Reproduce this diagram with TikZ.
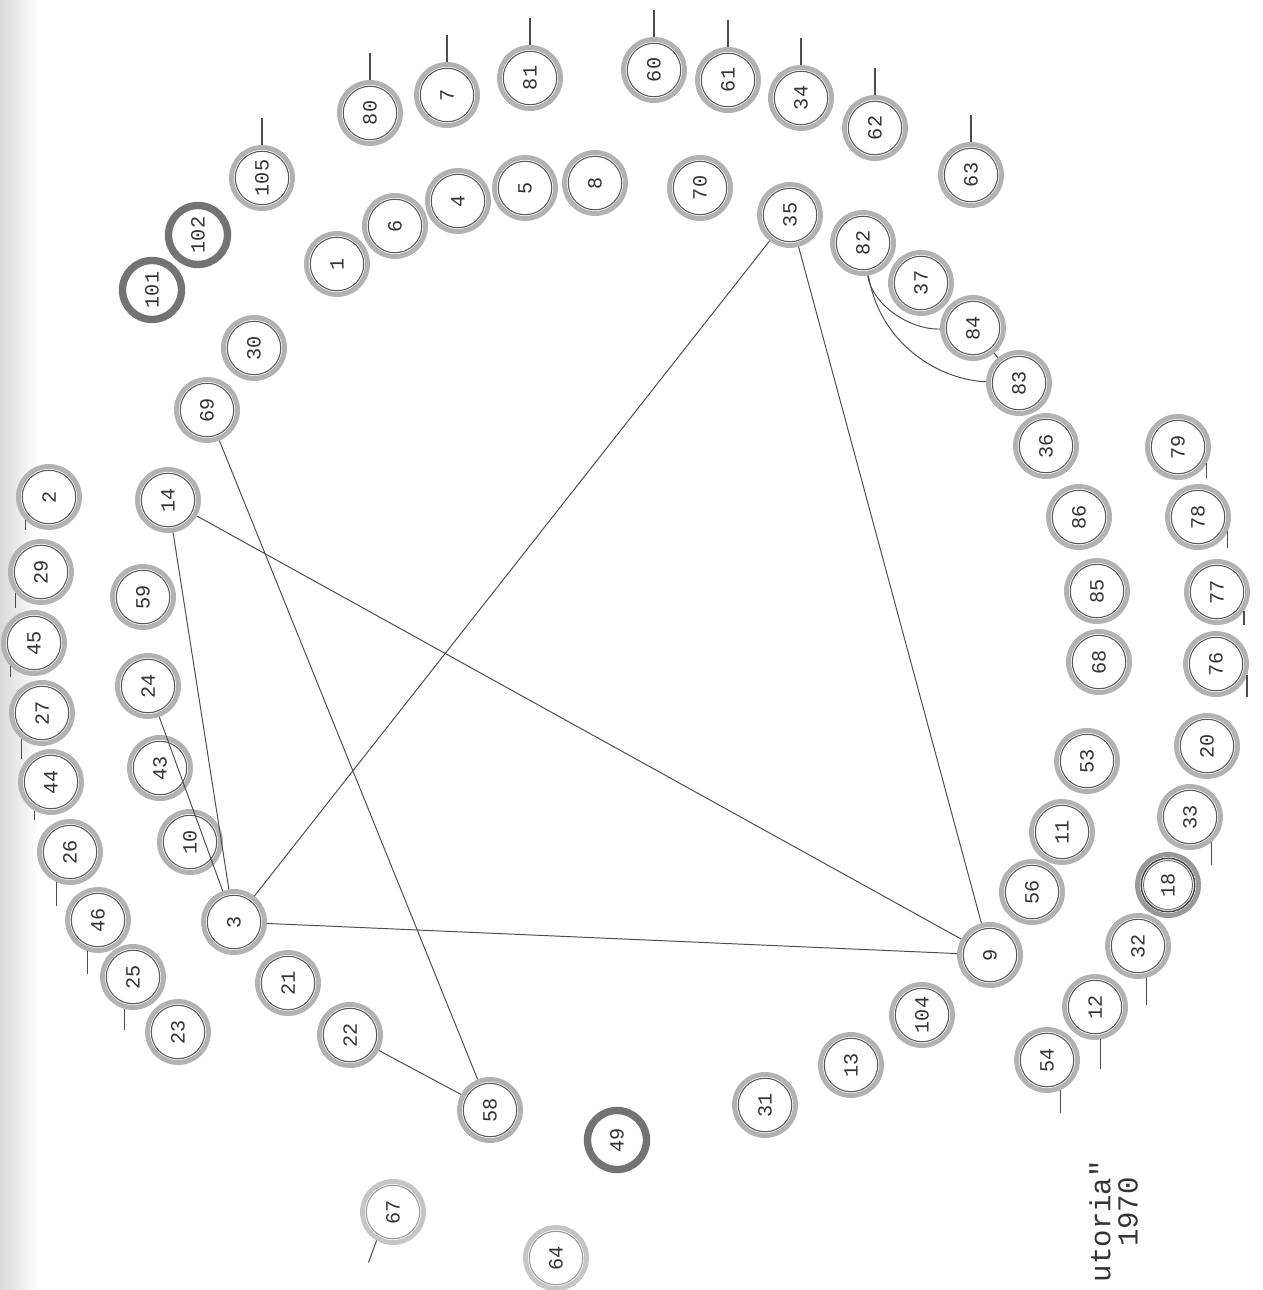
\documentclass[tikz,border=0pt]{standalone}
\usepackage{fontspec}
\usepackage{graphicx}
\setmonofont{Liberation Mono}
\usetikzlibrary{calc}
\tikzset{
  ring/.style={circle, minimum size=1.22cm, inner sep=0pt, draw=gray!60, line width=2.8pt,
    fill=white, text=black!80, font=\ttfamily\fontsize{11.5}{12}\selectfont,
    path picture={\draw[black!65, line width=0.6pt] (path picture bounding box.center) circle (0.535cm);}},
  dring/.style={ring, draw=gray!80,
    path picture={\draw[black!75, line width=0.8pt] (path picture bounding box.center) circle (0.535cm);
                  \draw[black!60, line width=0.5pt] (path picture bounding box.center) circle (0.49cm);}},
  heavy/.style={circle, minimum size=1.18cm, inner sep=0pt, draw=gray!90!black, line width=4.2pt,
    fill=white, text=black!80, font=\ttfamily\fontsize{11.5}{12}\selectfont},
  light/.style={ring, draw=gray!45,
    path picture={\draw[gray!80, line width=0.6pt] (path picture bounding box.center) circle (0.535cm);}},
  link/.style={draw=black!70, line width=0.55pt},
  tick/.style={draw=black!70, line width=0.6pt},
  caption/.style={rotate=90, text=black!80, font=\ttfamily\fontsize{16.5}{18}\selectfont, inner sep=0pt}
}
\newcommand\rn[4][ring]{\node[#1] (n#2) at (#3,#4) {\rotatebox{90}{#2}};}
\begin{document}
\begin{tikzpicture}[x=0.02cm, y=-0.02cm]
\useasboundingbox (0,0) rectangle (1262,1290);
\fill[white] (0,0) rectangle (1262,1290);
\shade[left color=gray!30, right color=white] (0,0) rectangle (38,1290);
% top outer arc
\rn{105}{262}{178}
\rn{80}{370}{113}
\rn{7}{447}{95}
\rn{81}{530}{78}
\rn{60}{654}{70}
\rn{61}{728}{80}
\rn{34}{801}{98}
\rn{62}{875}{128}
\rn{63}{971}{175}
% inner arc
\rn{1}{337}{264}
\rn{6}{395}{226}
\rn{4}{458}{201}
\rn{5}{525}{188}
\rn{8}{595}{183}
\rn{70}{700}{188}
\rn{35}{790}{215}
\rn{82}{863}{243}
\rn{37}{921}{283}
\rn{84}{973}{328}
\rn{83}{1019}{383}
\rn{36}{1046}{446}
\rn{86}{1079}{517}
\rn{85}{1097}{591}
\rn{68}{1099}{662}
\rn{53}{1087}{761}
\rn{11}{1062}{832}
\rn{56}{1032}{892}
\rn{9}{990}{955}
% right outer arc
\rn{79}{1178}{447}
\rn{78}{1198}{517}
\rn{77}{1217}{592}
\rn{76}{1216}{664}
\rn{20}{1207}{746}
\rn{33}{1190}{817}
\rn[dring]{18}{1168}{885}
\rn{32}{1138}{946}
\rn{12}{1095}{1007}
\rn{54}{1047}{1060}
% bottom
\rn{104}{922}{1015}
\rn{13}{851}{1065}
\rn{31}{765}{1105}
\rn[heavy]{49}{617}{1140}
\rn{58}{490}{1110}
\rn{22}{350}{1035}
\rn{21}{288}{983}
\rn{3}{234}{922}
% left inner
\rn{10}{190}{842}
\rn{43}{160}{768}
\rn{24}{148}{686}
\rn{59}{143}{597}
\rn{14}{168}{500}
\rn{69}{207}{410}
\rn{30}{254}{348}
\rn[heavy]{102}{198}{235}
\rn[heavy]{101}{152}{290}
% left outer
\rn{2}{49}{497}
\rn{29}{41}{572}
\rn{45}{34}{643}
\rn{27}{42}{713}
\rn{44}{51}{782}
\rn{26}{70}{852}
\rn{46}{98}{920}
\rn{25}{133}{977}
\rn{23}{178}{1032}
% far
\rn[light]{67}{393}{1212}
\rn[light]{64}{556}{1258}
% connectors
\draw[link] (n3) -- (n35);
\draw[link] (n3) -- (n9);
\draw[link] (n3) -- (n14);
\draw[link] (n3) -- (n24);
\draw[link] (n14) -- (n9);
\draw[link] (n69) -- (n58);
\draw[link] (n22) -- (n58);
\draw[link] (n35) -- (n9);
\draw[link] (n82) .. controls (872,305) and (910,330) .. (n84);
\draw[link] (n82) .. controls (880,345) and (940,380) .. (n83);
\draw[link] (n84) -- (n83);
% ticks
\foreach \n in {105,80,7,81,60,61,34,62,63}{\draw[tick] (n\n.north) -- ++(0,-27);}
\draw[tick] (n2.225) -- ++(0,10);
\draw[tick] (n29.220) -- ++(0,15);
\draw[tick] (n45.225) -- ++(0,11);
\draw[tick] (n27.232) -- ++(0,20);
\draw[tick] (n44.240) -- ++(0,9);
\draw[tick] (n26.245) -- ++(0,24);
\draw[tick] (n46.252) -- ++(0,23);
\draw[tick] (n25.255) -- ++(0,21);
\draw[tick] (n79.330) -- ++(0,15);
\draw[tick] (n78.335) -- ++(0,17);
\draw[tick] (n77.325) -- ++(0,14);
\draw[tick] (n76.340) -- ++(0,22);
\draw[tick] (n33.310) -- ++(0,23);
\draw[tick] (n32.285) -- ++(0,27);
\draw[tick] (n12.280) -- ++(0,30);
\draw[tick] (n54.295) -- ++(0,23);
\draw[tick] (n67.240) -- ++(-8,22);
\draw[tick] (n64.255) -- ++(-3,25);
% caption
\node[caption, anchor=east] (cap1) at (1100,1160) {utoria"};
\node[caption] (cap2) at (1128,1212) {1970};
\end{tikzpicture}
\end{document}
